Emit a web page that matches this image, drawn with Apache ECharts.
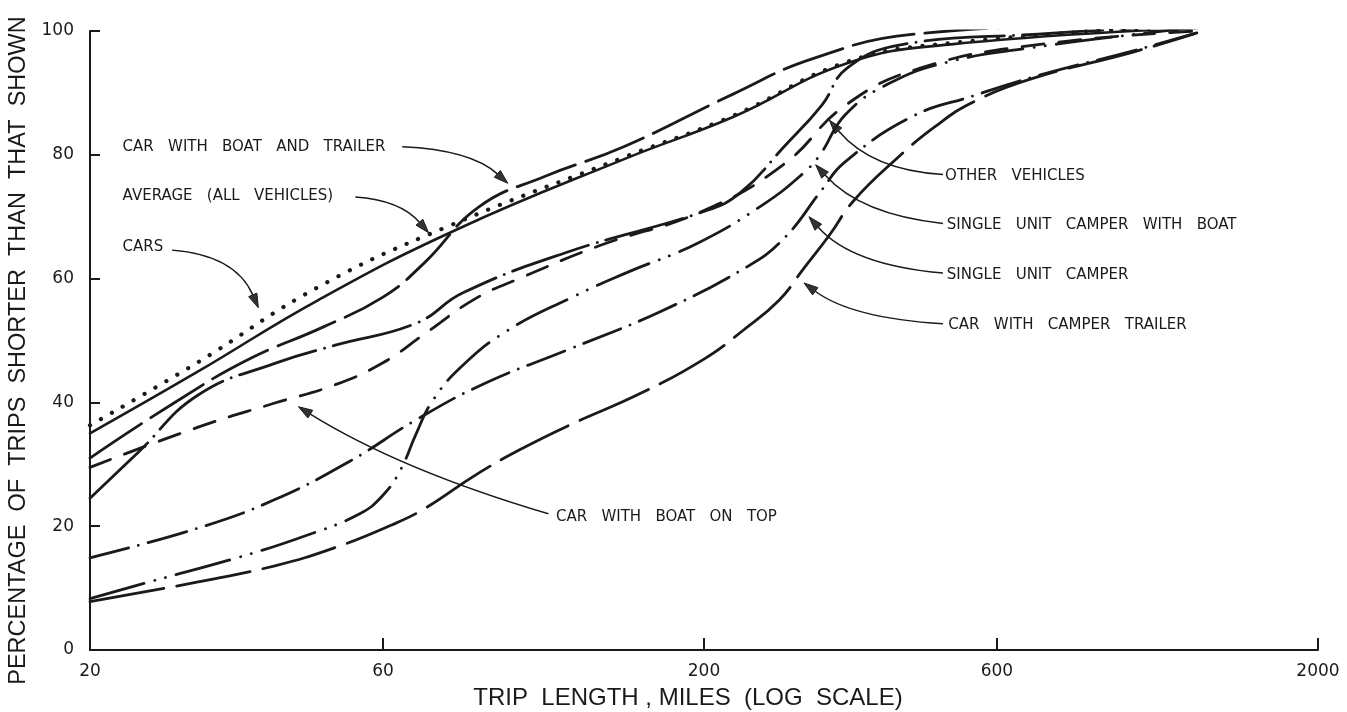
<!DOCTYPE html>
<html>
<head>
<meta charset="utf-8">
<script src="https://cdn.jsdelivr.net/npm/echarts@6/dist/echarts.min.js"></script>
<style>
html,body{margin:0;padding:0;background:#fff;}
#main{width:1347px;height:712px;}
</style>
</head>
<body>
<div id="main"></div>
<script>
// ---- Data (trip length in miles, percentage of trips shorter than that shown) ----
const xTickValues = [20, 60, 200, 600, 2000];

const carsData = [[20,36.3],[30,46.5],[47,58.6],[76,68.3],[150,79.8],[223,86.3],[342,95],[500,98],[1270,101]];
const averageData = [[20,35],[30,45],[47,56.5],[79,67.9],[150,79.5],[223,86.1],[342,94.8],[500,97.8],[1270,100.5]];
const boatTrailerData = [[20,31],[27,39.5],[36,46.8],[48,52.2],[60,57],[70,62.5],[86,71.6],[110,76.5],[148,81.3],[223,89.8],[300,95.5],[440,99.5],[1270,101.5]];
const boatTopData = [[20,29.5],[30,36],[40,39.9],[50,42.8],[60,46.4],[70,51],[85,56.8],[100,60],[135,65.3],[200,71],[270,78.5],[340,88],[450,94],[700,97.8],[1270,100]];
const otherData = [[20,24.5],[24,32],[30,41.2],[40,46.3],[50,49.2],[68,52.8],[81,57.7],[120,64.3],[202,71],[230,74],[270,81.3],[311,88],[342,94],[420,97.8],[700,99.5],[1270,101]];
const singleCamperData = [[20,14.9],[30,19.7],[40,24.3],[53,30.5],[68,37.2],[88,43.1],[120,48.5],[170,54.7],[235,61.9],[270,66.5],[311,74.3],[338,78.7],[435,86.1],[548,89.5],[700,92.8],[1000,96.8],[1270,99.7]];
const camperBoatData = [[20,8.3],[25,11],[35,15],[45,18.5],[55,22],[60,25],[64,29],[68,35],[72,40],[80,45.5],[95,51.4],[122,57],[150,61],[196,65.8],[250,72],[290,77],[309,80],[340,86.5],[400,91.5],[500,95],[684,97.3],[1075,99.8],[1270,100.5]];
const camperTrailerData = [[20,7.8],[30,11],[40,13.6],[50,16.5],[62,20.2],[70,22.8],[85,28.3],[100,32.3],[120,36.2],[158,41.5],[200,47],[232,51.7],[265,56.5],[290,61.5],[320,67],[350,72.5],[410,79.2],[475,84.5],[548,88.5],[684,92.3],[1000,96.6],[1270,99.7]];

const seriesNames = ['CARS','AVERAGE (ALL VEHICLES)','CAR WITH BOAT AND TRAILER','CAR WITH BOAT ON TOP','OTHER VEHICLES','SINGLE UNIT CAMPER','SINGLE UNIT CAMPER WITH BOAT','CAR WITH CAMPER TRAILER'];

// annotation labels: text anchor, arrow start, control, tip (data coords)
const annotations = [
  {text:'CAR   WITH   BOAT   AND   TRAILER', at:[22.6,81.3], start:[64.5,81.3], ctrl:[83.4,80.8], tip:[95.8,75.4]},
  {text:'AVERAGE   (ALL   VEHICLES)', at:[22.6,73.3], start:[54.1,73.2], ctrl:[64,72.7], tip:[71.2,67.4]},
  {text:'CARS', at:[22.6,65.1], start:[27.2,64.6], ctrl:[34.5,63.8], tip:[37.6,55.3]},
  {text:'CAR   WITH   BOAT   ON   TOP', at:[114.8,21.5], start:[111.6,22], ctrl:[64,29.1], tip:[43.7,39.3]},
  {text:'OTHER   VEHICLES', at:[494,76.6], start:[490,76.8], ctrl:[375,77.5], tip:[320,85.6]},
  {text:'SINGLE   UNIT   CAMPER   WITH   BOAT', at:[497,68.7], start:[490,68.9], ctrl:[360,70.3], tip:[304,78.4]},
  {text:'SINGLE   UNIT   CAMPER', at:[497,60.6], start:[490,60.9], ctrl:[348,62.2], tip:[296.5,70]},
  {text:'CAR   WITH   CAMPER   TRAILER', at:[500,52.5], start:[490,52.7], ctrl:[348,53.6], tip:[291,59.3]}
];

const INK = '#1a1a1a';
function lineSeries(name, data, width, dash) {
  return {
    name: name, type: 'line', data: data, showSymbol: false, silent: true,
    smooth: 0.45,
    lineStyle: {color: INK, width: width, type: dash, cap: 'round', join: 'round'}
  };
}

const chart = echarts.init(document.getElementById('main'), null, {renderer: 'canvas'});
const option = {
  animation: false,
  backgroundColor: '#fff',
  grid: {left: 90, right: 29, top: 31, bottom: 62, containLabel: false, outerBoundsMode: 'none'},
  xAxis: {
    type: 'log', logBase: 10, min: 20, max: 2000,
    name: 'TRIP  LENGTH , MILES  (LOG  SCALE)',
    nameLocation: 'middle', nameGap: 36,
    nameTextStyle: {fontFamily: 'Liberation Sans', fontSize: 24, color: INK, padding: [0, 32, 0, 0]},
    axisLine: {show: true, onZero: false, lineStyle: {color: INK, width: 2}},
    axisTick: {show: true, inside: true, length: 12, customValues: xTickValues, lineStyle: {color: INK, width: 2}},
    axisLabel: {customValues: xTickValues, margin: 13, fontFamily: 'DejaVu Sans', fontSize: 17, color: INK,
                formatter: v => String(Math.round(v))},
    splitLine: {show: false}, minorTick: {show: false}, minorSplitLine: {show: false}
  },
  yAxis: {
    type: 'value', min: 0, max: 100, interval: 20,
    name: 'PERCENTAGE  OF  TRIPS  SHORTER  THAN  THAT  SHOWN',
    nameLocation: 'middle', nameGap: 53, nameRotate: 90,
    nameTextStyle: {fontFamily: 'Liberation Sans', fontSize: 23.5, color: INK, padding: [0, 20, 0, 0]},
    axisLine: {show: true, lineStyle: {color: INK, width: 2}},
    axisTick: {show: true, inside: true, length: 10, lineStyle: {color: INK, width: 2}},
    axisLabel: {margin: 16, fontFamily: 'DejaVu Sans', fontSize: 17, color: INK},
    splitLine: {show: false}
  },
  series: [
    lineSeries(seriesNames[0], carsData, 4.2, [0.1, 12.5]),
    lineSeries(seriesNames[1], averageData, 2.6, 'solid'),
    lineSeries(seriesNames[2], boatTrailerData, 2.8, [62, 11]),
    lineSeries(seriesNames[3], boatTopData, 2.8, [22, 15]),
    lineSeries(seriesNames[4], otherData, 2.8, [80, 9, 0.1, 9]),
    lineSeries(seriesNames[5], singleCamperData, 2.8, [40, 10, 0.1, 10]),
    lineSeries(seriesNames[6], camperBoatData, 2.8, [56, 11, 0.1, 11, 0.1, 11]),
    lineSeries(seriesNames[7], camperTrailerData, 2.8, [75, 13])
  ]
};
chart.setOption(option);

// annotations placed through the chart's own coordinate conversion
const graphics = [];
annotations.forEach(a => {
  const p = pt => chart.convertToPixel({gridIndex: 0}, pt);
  const t = p(a.at), s = p(a.start), c = p(a.ctrl), e = p(a.tip);
  graphics.push({
    type: 'text', silent: true,
    style: {x: t[0], y: t[1], text: a.text, fill: INK, font: '15px "DejaVu Sans"', textAlign: 'left', textVerticalAlign: 'middle'}
  });
  const dx = e[0] - c[0], dy = e[1] - c[1];
  const len = Math.hypot(dx, dy) || 1;
  const ux = dx / len, uy = dy / len;
  const headL = 14, headW = 4.5;
  const bx = e[0] - ux * headL, by = e[1] - uy * headL;
  graphics.push({
    type: 'bezierCurve', silent: true,
    shape: {x1: s[0], y1: s[1], cpx1: c[0], cpy1: c[1], x2: bx, y2: by},
    style: {stroke: INK, lineWidth: 1.5, fill: null}
  });
  graphics.push({
    type: 'polygon', silent: true,
    shape: {points: [[e[0], e[1]], [bx - uy * headW, by + ux * headW], [bx + uy * headW, by - ux * headW]]},
    style: {fill: '#333', stroke: INK, lineWidth: 1}
  });
});
chart.setOption({graphic: graphics});
</script>
</body>
</html>
